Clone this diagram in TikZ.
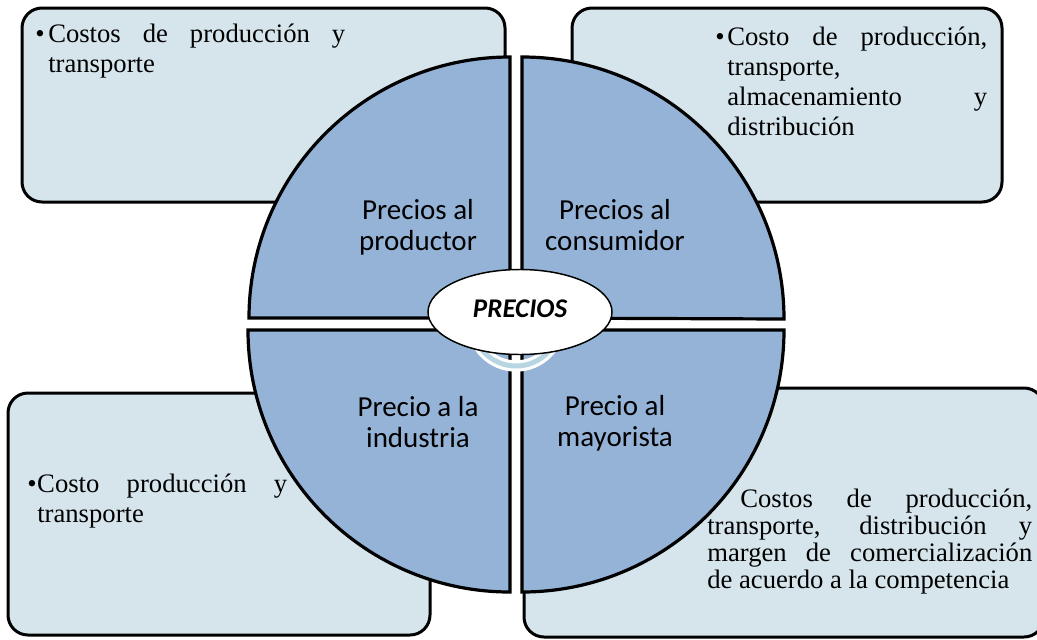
\documentclass[tikz,border=0pt]{standalone}
\usepackage{fontspec}
\setmainfont{Liberation Serif}
\newfontfamily\calibrifont{Carlito}
\usetikzlibrary{shapes.geometric}
\definecolor{boxfill}{RGB}{214,229,236}
\definecolor{quadfill}{RGB}{149,179,215}
\definecolor{ringblue}{RGB}{183,214,226}
\begin{document}
\begin{tikzpicture}[x=0.75pt,y=0.75pt,
  infobox/.style={draw=black,line width=2.25pt,fill=boxfill,rounded corners=15pt,inner sep=0pt},
  quad/.style={draw=black,line width=2.4pt,fill=quadfill,line join=miter},
  quadlabel/.style={font=\calibrifont\fontsize{21.75}{23.25}\selectfont,align=center,anchor=base,inner sep=0pt},
  boxtext/.style={font=\fontsize{20}{22.5}\selectfont,align=left,anchor=base west,inner sep=0pt},
  centre/.style={ellipse,draw=black,line width=1.1pt,fill=white,minimum width=138pt,minimum height=63.75pt,inner sep=0pt,
    font=\calibrifont\bfseries\itshape\fontsize{20.25}{22}\selectfont,text depth=5.5pt}]
\useasboundingbox (0,0) rectangle (1037,-639);
\clip (0,0) rectangle (1037,-639);
% boxes
\node[infobox,minimum width=362.25pt,minimum height=145.5pt] (tlbox) at (263.5,-105) {};
\node[infobox,minimum width=322.5pt,minimum height=145.5pt] (trbox) at (787,-105) {};
\node[infobox,minimum width=316.5pt,minimum height=181.5pt] (blbox) at (219,-514) {};
\node[infobox,minimum width=390pt,minimum height=186.75pt] (brbox) at (784,-512.5) {};
% quadrants
\draw[quad] (510,-318) -- (510,-57) arc[start angle=90,end angle=180,radius=261] -- cycle;
\draw[quad] (522,-318) -- (522,-57) arc[start angle=90,end angle=0,radius=262] -- cycle;
\draw[quad] (510,-330) -- (510,-592) arc[start angle=270,end angle=180,radius=262] -- cycle;
\draw[quad] (522,-330) -- (522,-592) arc[start angle=270,end angle=360,radius=262] -- cycle;
% ring
\draw[white,line width=8.5pt] (516,-322) circle[radius=44];
\draw[ringblue,line width=3.75pt] (516,-322) circle[radius=44];
% centre
\node[centre] (precios) at (520,-312) {PRECIOS};
% quadrant labels (anchored at the baseline of their last line)
\node[quadlabel] (qtl) at (418,-250) {Precios al\\productor};
\node[quadlabel] (qtr) at (615,-250) {Precios al\\consumidor};
\node[quadlabel] (qbl) at (418,-447) {Precio a la\\industria};
\node[quadlabel] (qbr) at (615,-446) {Precio al\\mayorista};
% box texts (anchored at the baseline of their last line)
\node[boxtext] (tltext) at (35,-72) {\makebox[9.75pt][l]{•}\makebox[222.75pt][s]{Costos de producción y}\\\hspace*{9.75pt}transporte};
\node[boxtext] (trtext) at (715,-135) {\makebox[9pt][l]{•}\makebox[195pt][s]{Costo de producción,}\\\hspace*{9pt}transporte,\\\hspace*{9pt}\makebox[195pt][s]{almacenamiento y}\\\hspace*{9pt}distribución};
\node[boxtext] (bltext) at (27,-522) {\makebox[7.5pt][l]{•}\makebox[187.5pt][s]{Costo producción y}\\\hspace*{7.5pt}transporte};
\node[boxtext,font=\fontsize{20}{20.25}\selectfont] (brtext) at (707,-588) {\hspace*{24.75pt}\makebox[219pt][s]{Costos de producción,}\\\makebox[243.75pt][s]{transporte, distribución y}\\\makebox[243.75pt][s]{margen de comercialización}\\de acuerdo a la competencia};
\end{tikzpicture}
\end{document}
